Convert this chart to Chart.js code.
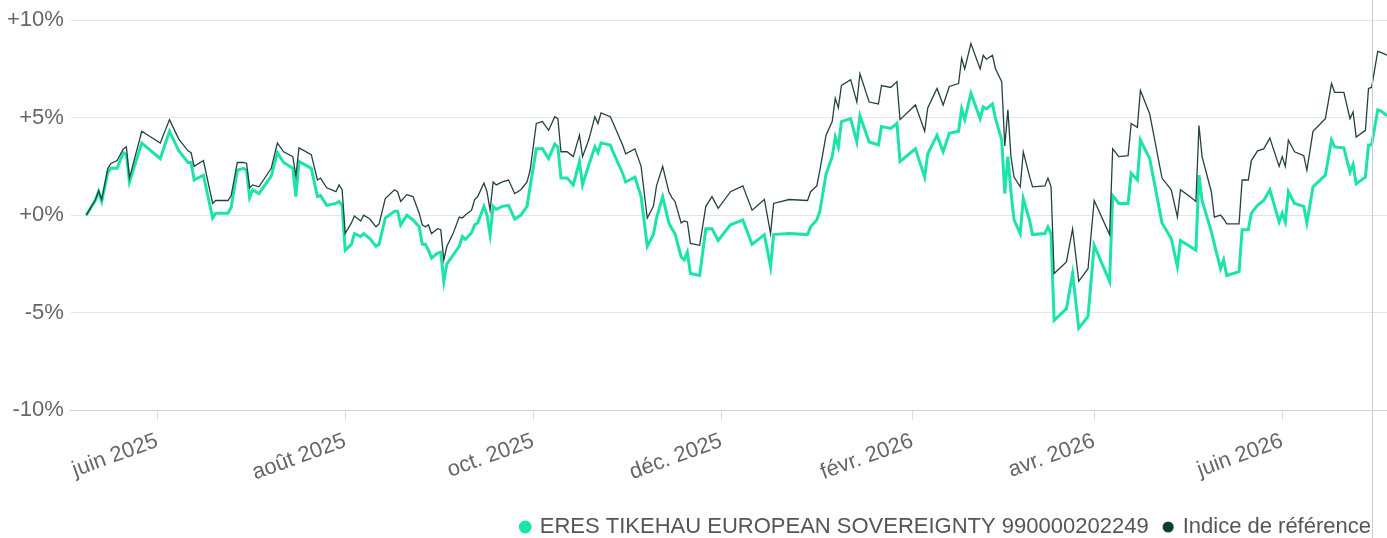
<!DOCTYPE html>
<html lang="fr">
<head>
<meta charset="utf-8">
<script src="https://cdn.jsdelivr.net/npm/chart.js@4.4.1/dist/chart.umd.min.js"></script>
<style>
  html, body { margin: 0; padding: 0; background: #fff; }
</style>
</head>
<body>
<canvas id="perfChart" width="1387" height="538"></canvas>
<script>
// performance cumulée en %
const dates = [
  '2025-05-09','2025-05-12','2025-05-13','2025-05-14','2025-05-16','2025-05-17','2025-05-19','2025-05-21','2025-05-22','2025-05-23',
  '2025-05-27','2025-06-02','2025-06-05','2025-06-08','2025-06-11','2025-06-12','2025-06-13','2025-06-16','2025-06-19','2025-06-20',
  '2025-06-24','2025-06-25','2025-06-27','2025-06-29','2025-06-30','2025-07-01','2025-07-02','2025-07-04','2025-07-08','2025-07-10',
  '2025-07-12','2025-07-15','2025-07-16','2025-07-17','2025-07-21','2025-07-23','2025-07-24','2025-07-26','2025-07-29','2025-07-30',
  '2025-07-31','2025-08-01','2025-08-03','2025-08-04','2025-08-06','2025-08-07','2025-08-09','2025-08-11','2025-08-12','2025-08-14',
  '2025-08-17','2025-08-18','2025-08-19','2025-08-21','2025-08-23','2025-08-25','2025-08-26','2025-08-27','2025-08-28','2025-08-29',
  '2025-08-31','2025-09-01','2025-09-02','2025-09-03','2025-09-05','2025-09-07','2025-09-08','2025-09-09','2025-09-11','2025-09-12',
  '2025-09-13','2025-09-15','2025-09-16','2025-09-17','2025-09-18','2025-09-19','2025-09-21','2025-09-23','2025-09-25','2025-09-27',
  '2025-09-29','2025-09-30','2025-10-02','2025-10-04','2025-10-06','2025-10-08','2025-10-09','2025-10-10','2025-10-12','2025-10-14',
  '2025-10-16','2025-10-17','2025-10-19','2025-10-21','2025-10-22','2025-10-23','2025-10-26','2025-10-27','2025-10-30','2025-10-31',
  '2025-11-03','2025-11-05','2025-11-07','2025-11-09','2025-11-10','2025-11-12','2025-11-14','2025-11-15','2025-11-16','2025-11-18',
  '2025-11-19','2025-11-20','2025-11-21','2025-11-24','2025-11-26','2025-11-28','2025-11-30','2025-12-04','2025-12-08','2025-12-11',
  '2025-12-15','2025-12-17','2025-12-18','2025-12-23','2025-12-29','2025-12-30','2026-01-01','2026-01-02','2026-01-04','2026-01-06',
  '2026-01-07','2026-01-08','2026-01-09','2026-01-12','2026-01-14','2026-01-15','2026-01-18','2026-01-21','2026-01-22','2026-01-25',
  '2026-01-27','2026-01-28','2026-02-02','2026-02-05','2026-02-06','2026-02-09','2026-02-11','2026-02-13','2026-02-16','2026-02-17',
  '2026-02-18','2026-02-20','2026-02-23','2026-02-24','2026-02-25','2026-02-27','2026-02-28','2026-03-02','2026-03-03','2026-03-04',
  '2026-03-05','2026-03-06','2026-03-08','2026-03-09','2026-03-11','2026-03-12','2026-03-16','2026-03-17','2026-03-18','2026-03-19',
  '2026-03-23','2026-03-25','2026-03-27','2026-03-30','2026-04-01','2026-04-06','2026-04-07','2026-04-09','2026-04-12','2026-04-13',
  '2026-04-15','2026-04-16','2026-04-19','2026-04-23','2026-04-26','2026-04-28','2026-04-29','2026-05-02','2026-05-04','2026-05-05',
  '2026-05-06','2026-05-09','2026-05-10','2026-05-12','2026-05-13','2026-05-14','2026-05-18','2026-05-19','2026-05-21','2026-05-22',
  '2026-05-24','2026-05-26','2026-05-28','2026-05-31','2026-06-01','2026-06-02','2026-06-03','2026-06-05','2026-06-08','2026-06-09',
  '2026-06-11','2026-06-15','2026-06-17','2026-06-18','2026-06-21','2026-06-23','2026-06-24','2026-06-25','2026-06-28','2026-06-29',
  '2026-06-30','2026-07-02','2026-07-03','2026-07-05'
];

const fundValues = [
  0.0, 0.77, 1.2, 0.7, 2.2, 2.4, 2.4, 3.2, 3.1, 1.7,
  3.7, 2.9, 4.3, 3.3, 2.7, 2.7, 1.8, 2.05, -0.15, 0.1,
  0.1, 0.4, 2.3, 2.4, 2.3, 0.9, 1.3, 1.1, 2.0, 3.2,
  2.7, 2.4, 0.95, 2.75, 2.4, 0.95, 1.0, 0.5, 0.6, 0.7,
  0.5, -1.8, -1.5, -0.95, -1.1, -0.95, -1.2, -1.6, -1.5, -0.15,
  0.2, 0.2, -0.5, 0.0, -0.25, -0.6, -1.5, -1.5, -1.8, -2.2,
  -1.95, -1.9, -3.4, -2.5, -2.05, -1.6, -1.1, -1.25, -0.9, -0.5,
  -0.4, 0.45, 0.0, -1.0, 0.45, 0.3, 0.45, 0.5, -0.2, 0.0,
  0.45, 1.45, 3.4, 3.4, 2.9, 3.65, 3.5, 1.9, 1.9, 1.55,
  2.75, 1.55, 2.55, 3.5, 3.2, 3.7, 3.6, 3.2, 2.15, 1.7,
  1.95, 0.95, -1.6, -1.0, -0.15, 0.95, -0.4, -0.7, -0.95, -2.15,
  -2.3, -1.9, -3.0, -3.1, -0.7, -0.7, -1.3, -0.5, -0.25, -1.5,
  -1.0, -2.65, -1.0, -0.95, -1.0, -0.6, -0.25, 0.2, 2.1, 3.0,
  4.0, 3.5, 4.8, 4.95, 3.75, 5.1, 3.75, 3.6, 4.55, 4.45,
  4.7, 2.75, 3.4, 1.95, 3.15, 4.1, 3.25, 4.2, 4.3, 5.45,
  4.9, 6.25, 4.95, 5.55, 5.45, 5.7, 4.95, 3.85, 1.1, 3.0,
  1.2, -0.25, -0.95, 0.85, -0.25, -1.0, -0.95, -0.6, -0.95, -5.4,
  -4.8, -3.0, -5.8, -5.2, -1.55, -3.4, 1.0, 0.6, 0.6, 2.15,
  1.8, 3.85, 2.9, -0.4, -1.2, -2.65, -1.3, -1.6, -1.8, 2.05,
  0.75, -0.85, -1.5, -2.75, -2.3, -3.1, -2.9, -0.75, -0.75, 0.1,
  0.5, 0.75, 1.3, -0.35, 0.1, -0.35, 1.2, 0.6, 0.45, -0.4,
  1.45, 2.05, 3.85, 3.5, 3.45, 2.2, 2.6, 1.6, 1.95, 3.6,
  3.6, 5.4, 5.35, 5.1
];

const benchmarkValues = [
  0.0, 0.8, 1.25, 0.8, 2.4, 2.65, 2.8, 3.4, 3.5, 1.9,
  4.3, 3.7, 4.9, 3.9, 3.3, 3.2, 2.5, 2.8, 0.6, 0.75,
  0.75, 1.0, 2.7, 2.7, 2.65, 1.4, 1.55, 1.45, 2.4, 3.7,
  3.25, 3.0, 2.0, 3.45, 3.1, 1.8, 1.9, 1.4, 1.2, 1.55,
  1.3, -0.95, -0.4, -0.05, -0.3, 0.0, -0.2, -0.6, -0.45, 0.85,
  1.3, 1.2, 0.7, 1.05, 0.95, 0.1, -0.5, -0.6, -0.5, -0.95,
  -0.7, -0.75, -2.3, -1.6, -0.95, -0.1, -0.15, 0.0, 0.25, 0.8,
  0.95, 1.65, 1.2, 0.25, 1.7, 1.55, 1.7, 1.8, 1.1, 1.3,
  1.7, 2.3, 4.7, 4.8, 4.35, 5.05, 4.95, 3.25, 3.25, 3.0,
  4.1, 3.0, 3.85, 5.05, 4.7, 5.25, 5.05, 4.7, 3.6, 3.15,
  3.4, 2.5, -0.15, 0.45, 1.5, 2.5, 1.2, 0.9, 0.7, -0.4,
  -0.3, -0.35, -1.45, -1.55, 0.45, 0.95, 0.35, 1.2, 1.5, 0.25,
  0.8, -0.95, 0.6, 0.8, 0.75, 1.2, 1.5, 2.3, 4.1, 4.8,
  6.0, 5.5, 6.65, 6.95, 5.8, 7.25, 5.8, 5.7, 6.65, 6.55,
  6.85, 4.9, 5.65, 4.3, 5.5, 6.5, 5.65, 6.6, 6.75, 8.05,
  7.5, 8.8, 7.5, 8.2, 8.0, 8.2, 7.5, 6.85, 3.55, 5.4,
  3.0, 1.95, 1.45, 3.25, 2.0, 1.45, 1.5, 1.9, 1.45, -3.0,
  -2.4, -0.7, -3.4, -2.75, 0.75, -1.0, 3.4, 3.0, 3.05, 4.7,
  4.5, 6.4, 5.2, 1.9, 1.3, -0.1, 1.3, 0.95, 0.7, 4.6,
  3.0, 1.2, -0.1, 0.0, -0.2, -0.45, -0.45, 1.8, 1.8, 2.8,
  3.3, 3.4, 3.95, 2.5, 3.0, 2.5, 3.85, 3.25, 3.05, 2.3,
  4.3, 4.95, 6.75, 6.3, 6.3, 4.95, 5.3, 4.0, 4.35, 6.5,
  6.55, 8.4, 8.35, 8.2
];

const seriesNames = ['ERES TIKEHAU EUROPEAN SOVEREIGNTY 990000202249', 'Indice de référence'];
const xTickDates = ['2025-06-01', '2025-08-01', '2025-10-01', '2025-12-01', '2026-02-01', '2026-04-01', '2026-06-01'];
const yTickValues = [-10, -5, 0, 5, 10];
const moisCourts = ['janv.', 'févr.', 'mars', 'avr.', 'mai', 'juin', 'juil.', 'août', 'sept.', 'oct.', 'nov.', 'déc.'];
const xStart = '2025-05-04';
const cursorDate = '2026-06-30';

const toTime = d => Date.parse(d);
const toPoints = values => values.map((v, i) => ({ x: toTime(dates[i]), y: v }));

// ligne verticale du curseur
const cursorLine = {
    id: 'cursorLine',
    afterDatasetsDraw(chart) {
        const x = chart.scales.x.getPixelForValue(toTime(cursorDate));
        const ctx = chart.ctx;
        ctx.save();
        ctx.strokeStyle = '#c9ccd6';
        ctx.lineWidth = 1;
        ctx.beginPath();
        ctx.moveTo(Math.round(x) + 0.5, 0);
        ctx.lineTo(Math.round(x) + 0.5, chart.height);
        ctx.stroke();
        ctx.restore();
    }
};

const ctx = document.getElementById('perfChart').getContext('2d');
new Chart(ctx, {
    type: 'line',
    data: {
        datasets: [
            {
                label: seriesNames[0],
                data: toPoints(fundValues),
                borderColor: '#1be3aa',
                backgroundColor: '#1be3aa',
                borderWidth: 3,
                pointRadius: 0,
                tension: 0,
                order: 2
            },
            {
                label: seriesNames[1],
                data: toPoints(benchmarkValues),
                borderColor: '#24423c',
                backgroundColor: '#063d30',
                borderWidth: 1.3,
                pointRadius: 0,
                tension: 0,
                order: 1
            }
        ]
    },
    options: {
        responsive: false,
        animation: false,
        devicePixelRatio: 1,
        layout: { padding: { left: 0, right: 0, top: 8, bottom: 0 } },
        plugins: {
            tooltip: { enabled: false },
            legend: {
                position: 'bottom',
                align: 'end',
                maxHeight: 38,
                labels: {
                    usePointStyle: true,
                    pointStyle: 'circle',
                    boxWidth: 7,
                    boxHeight: 7,
                    padding: 16,
                    color: '#555',
                    font: { family: 'Liberation Sans, Arial, sans-serif', size: 22 },
                    sort: (a, b) => a.datasetIndex - b.datasetIndex
                }
            }
        },
        scales: {
            x: {
                type: 'linear',
                min: toTime(xStart),
                max: toTime(dates[dates.length - 1]),
                afterBuildTicks: axis => {
                    axis.ticks = xTickDates.map(d => ({ value: toTime(d) }));
                },
                afterFit: axis => {
                    axis.height = 90;
                },
                ticks: {
                    autoSkip: false,
                    maxRotation: 20,
                    minRotation: 20,
                    padding: 8,
                    color: '#666',
                    font: { family: 'Liberation Sans, Arial, sans-serif', size: 22 },
                    callback: value => {
                        const d = new Date(value);
                        return moisCourts[d.getUTCMonth()] + ' ' + d.getUTCFullYear();
                    }
                },
                grid: { drawOnChartArea: false, drawTicks: true, tickLength: 10, color: '#dcdcdc' },
                border: { display: true, color: '#cfcfcf' }
            },
            y: {
                min: -10,
                max: 10,
                afterBuildTicks: axis => {
                    axis.ticks = yTickValues.map(v => ({ value: v }));
                },
                ticks: {
                    padding: 7,
                    color: '#666',
                    font: { family: 'Liberation Sans, Arial, sans-serif', size: 22 },
                    callback: v => (v >= 0 ? '+' : '') + v + '%'
                },
                grid: { color: '#e4e4e4', drawTicks: false },
                border: { display: false }
            }
        }
    },
    plugins: [cursorLine]
});
</script>
</body>
</html>
